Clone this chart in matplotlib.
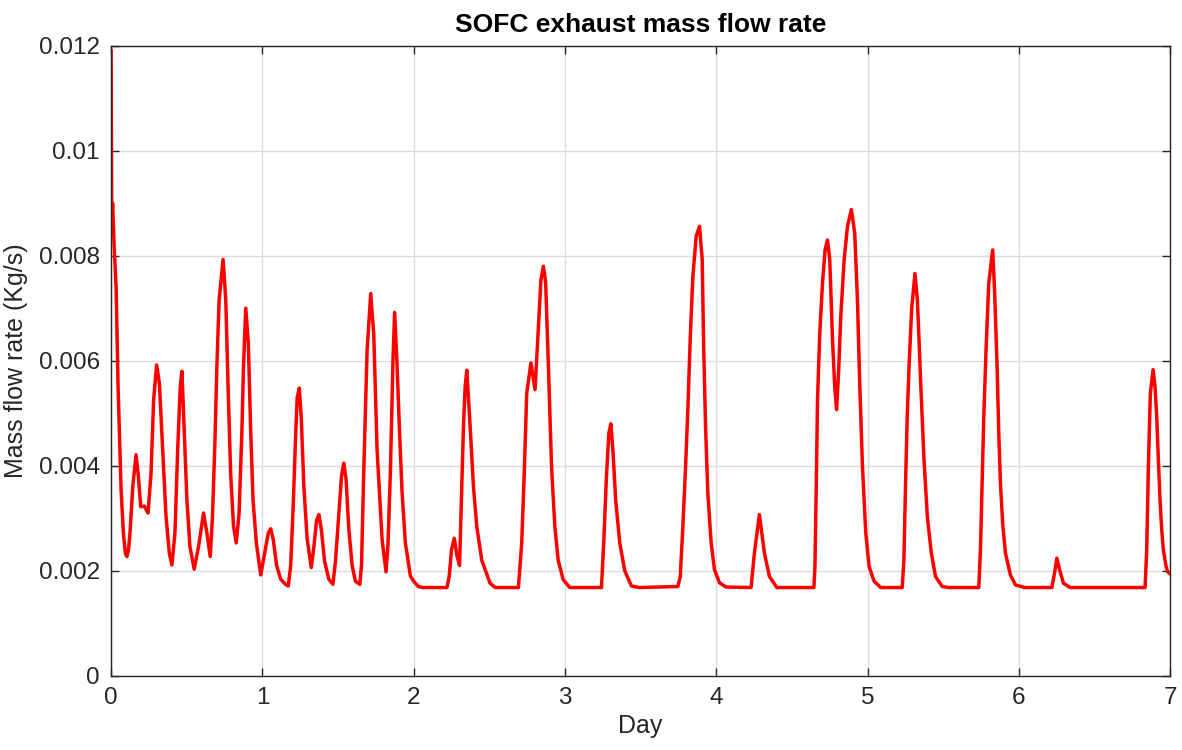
import numpy as np
import matplotlib
matplotlib.use('Agg')
import matplotlib.pyplot as plt

# SOFC exhaust mass flow rate (day, kg/s)
day = [0.000, 0.004, 0.010, 0.020, 0.033, 0.046, 0.055, 0.066, 0.081, 0.095,
       0.105, 0.115, 0.125, 0.143, 0.165, 0.180, 0.196, 0.220, 0.244, 0.264,
       0.281, 0.301, 0.319, 0.341, 0.363, 0.385, 0.402, 0.422, 0.440, 0.457,
       0.468, 0.483, 0.501, 0.521, 0.549, 0.578, 0.611, 0.633, 0.655, 0.670,
       0.686, 0.699, 0.714, 0.740, 0.758, 0.773, 0.790, 0.809, 0.827, 0.846,
       0.864, 0.875, 0.890, 0.907, 0.921, 0.938, 0.960, 0.989,
       1.022, 1.039, 1.055, 1.072, 1.094, 1.121, 1.153, 1.171, 1.187, 1.204,
       1.220, 1.230, 1.244, 1.257, 1.274, 1.296, 1.323, 1.340, 1.358, 1.373,
       1.389, 1.411, 1.439, 1.466, 1.483, 1.505, 1.523, 1.538, 1.553, 1.571,
       1.593, 1.615, 1.644, 1.655, 1.670, 1.692, 1.716, 1.736, 1.758, 1.791,
       1.817, 1.830, 1.846, 1.863, 1.874, 1.889, 1.905, 1.923, 1.945, 1.978,
       2.000, 2.030, 2.060, 2.220, 2.235, 2.250, 2.268, 2.285, 2.303, 2.318,
       2.329, 2.340, 2.351, 2.362, 2.373, 2.395, 2.417, 2.450, 2.505, 2.540,
       2.692, 2.714, 2.730, 2.747, 2.775, 2.802, 2.824, 2.841, 2.857, 2.872,
       2.889, 2.911, 2.933, 2.955, 2.988, 3.032, 3.241, 3.256, 3.274, 3.290,
       3.303, 3.318, 3.335, 3.362, 3.395, 3.439, 3.490, 3.746, 3.762, 3.779,
       3.797, 3.812, 3.828, 3.845, 3.867, 3.889, 3.907, 3.916, 3.929, 3.944,
       3.966, 3.988, 4.021, 4.065, 4.230, 4.252, 4.285, 4.318, 4.351, 4.400,
       4.645, 4.652, 4.661, 4.669, 4.684, 4.702, 4.719, 4.735, 4.750, 4.768,
       4.783, 4.795, 4.808, 4.823, 4.845, 4.867, 4.893, 4.915, 4.933, 4.948,
       4.966, 4.988, 5.010, 5.043, 5.087, 5.229, 5.240, 5.251, 5.262, 5.274,
       5.291, 5.313, 5.329, 5.340, 5.351, 5.373, 5.395, 5.421, 5.449, 5.493,
       5.537, 5.735, 5.746, 5.757, 5.768, 5.783, 5.801, 5.827, 5.840, 5.856,
       5.867, 5.878, 5.893, 5.911, 5.944, 5.977, 6.040, 6.218, 6.236, 6.251,
       6.269, 6.295, 6.339, 6.834, 6.845, 6.856, 6.869, 6.887, 6.900, 6.911,
       6.922, 6.933, 6.944, 6.955, 6.971, 6.983, 7.000]
flow = [0.01190, 0.00870, 0.00900, 0.00820, 0.00740, 0.00551, 0.00462, 0.00354, 0.00272, 0.00232,
        0.00227, 0.00240, 0.00272, 0.00360, 0.00421, 0.00380, 0.00322, 0.00323, 0.00310, 0.00386,
        0.00525, 0.00592, 0.00557, 0.00430, 0.00303, 0.00233, 0.00211, 0.00272, 0.00430, 0.00550,
        0.00580, 0.00469, 0.00335, 0.00246, 0.00203, 0.00246, 0.00310, 0.00272, 0.00227, 0.00303,
        0.00443, 0.00589, 0.00716, 0.00793, 0.00716, 0.00551, 0.00386, 0.00285, 0.00253, 0.00310,
        0.00462, 0.00589, 0.00700, 0.00634, 0.00481, 0.00335, 0.00253, 0.00192,
        0.00245, 0.00272, 0.00280, 0.00259, 0.00210, 0.00184, 0.00174, 0.00171, 0.00210, 0.00327,
        0.00462, 0.00530, 0.00548, 0.00490, 0.00360, 0.00260, 0.00206, 0.00245, 0.00296, 0.00307,
        0.00280, 0.00218, 0.00184, 0.00174, 0.00218, 0.00307, 0.00381, 0.00405, 0.00374, 0.00280,
        0.00210, 0.00180, 0.00174, 0.00210, 0.00390, 0.00620, 0.00728, 0.00650, 0.00430, 0.00260,
        0.00198, 0.00250, 0.00390, 0.00600, 0.00692, 0.00600, 0.00475, 0.00350, 0.00253, 0.00190,
        0.00180, 0.00170, 0.00168, 0.00168, 0.00190, 0.00240, 0.00262, 0.00230, 0.00210, 0.00360,
        0.00475, 0.00550, 0.00582, 0.00530, 0.00475, 0.00360, 0.00284, 0.00220, 0.00176, 0.00168,
        0.00168, 0.00253, 0.00380, 0.00538, 0.00596, 0.00545, 0.00665, 0.00754, 0.00780, 0.00750,
        0.00602, 0.00398, 0.00284, 0.00220, 0.00183, 0.00168, 0.00168, 0.00253, 0.00380, 0.00462,
        0.00480, 0.00424, 0.00335, 0.00253, 0.00200, 0.00171, 0.00168, 0.00170, 0.00189, 0.00284,
        0.00398, 0.00507, 0.00646, 0.00760, 0.00837, 0.00856, 0.00792, 0.00634, 0.00475, 0.00348,
        0.00253, 0.00202, 0.00177, 0.00169, 0.00168, 0.00234, 0.00307, 0.00234, 0.00189, 0.00168,
        0.00168, 0.00208, 0.00367, 0.00526, 0.00653, 0.00748, 0.00811, 0.00830, 0.00792, 0.00640,
        0.00550, 0.00507, 0.00577, 0.00685, 0.00792, 0.00856, 0.00888, 0.00843, 0.00716, 0.00557,
        0.00399, 0.00272, 0.00208, 0.00180, 0.00168, 0.00168, 0.00221, 0.00367, 0.00494, 0.00589,
        0.00697, 0.00766, 0.00716, 0.00640, 0.00557, 0.00411, 0.00303, 0.00234, 0.00189, 0.00170,
        0.00168, 0.00168, 0.00240, 0.00367, 0.00494, 0.00621, 0.00748, 0.00811, 0.00729, 0.00589,
        0.00462, 0.00367, 0.00290, 0.00234, 0.00192, 0.00173, 0.00168, 0.00168, 0.00196, 0.00224,
        0.00202, 0.00176, 0.00168, 0.00168, 0.00240, 0.00399, 0.00538, 0.00583, 0.00550, 0.00494,
        0.00411, 0.00335, 0.00278, 0.00240, 0.00211, 0.00198, 0.00194]

xticks = [0, 1, 2, 3, 4, 5, 6, 7]
yticks = [0, 0.002, 0.004, 0.006, 0.008, 0.01, 0.012]
ytick_labels = ['0', '0.002', '0.004', '0.006', '0.008', '0.01', '0.012']

plt.rcParams['font.family'] = ['Liberation Sans', 'DejaVu Sans']
dark = '#262626'

fig = plt.figure(figsize=(11.82, 7.5), dpi=100)
ax = fig.add_axes([0.094, 0.099, 0.896, 0.840])
ax.plot(day, flow, color='red', linewidth=2.5, solid_joinstyle='round')

ax.set_xlim(0, 7)
ax.set_ylim(0, 0.012)
ax.set_xticks(xticks)
ax.set_yticks(yticks)
ax.set_yticklabels(ytick_labels)
ax.tick_params(direction='in', length=6, width=1, colors=dark, labelsize=17.5,
               top=True, right=True, pad=8)
for s in ax.spines.values():
    s.set_color(dark)
    s.set_linewidth(1)
ax.grid(True, color='#dcdcdc', linewidth=1)
ax.set_axisbelow(True)

ax.set_xlabel('Day', fontsize=18, color=dark, labelpad=4)
ax.set_ylabel('Mass flow rate (Kg/s)', fontsize=18, color=dark, labelpad=8)
ax.set_title('SOFC exhaust mass flow rate', fontsize=19, fontweight='bold', pad=10)

fig.savefig('out.png', dpi=100)
